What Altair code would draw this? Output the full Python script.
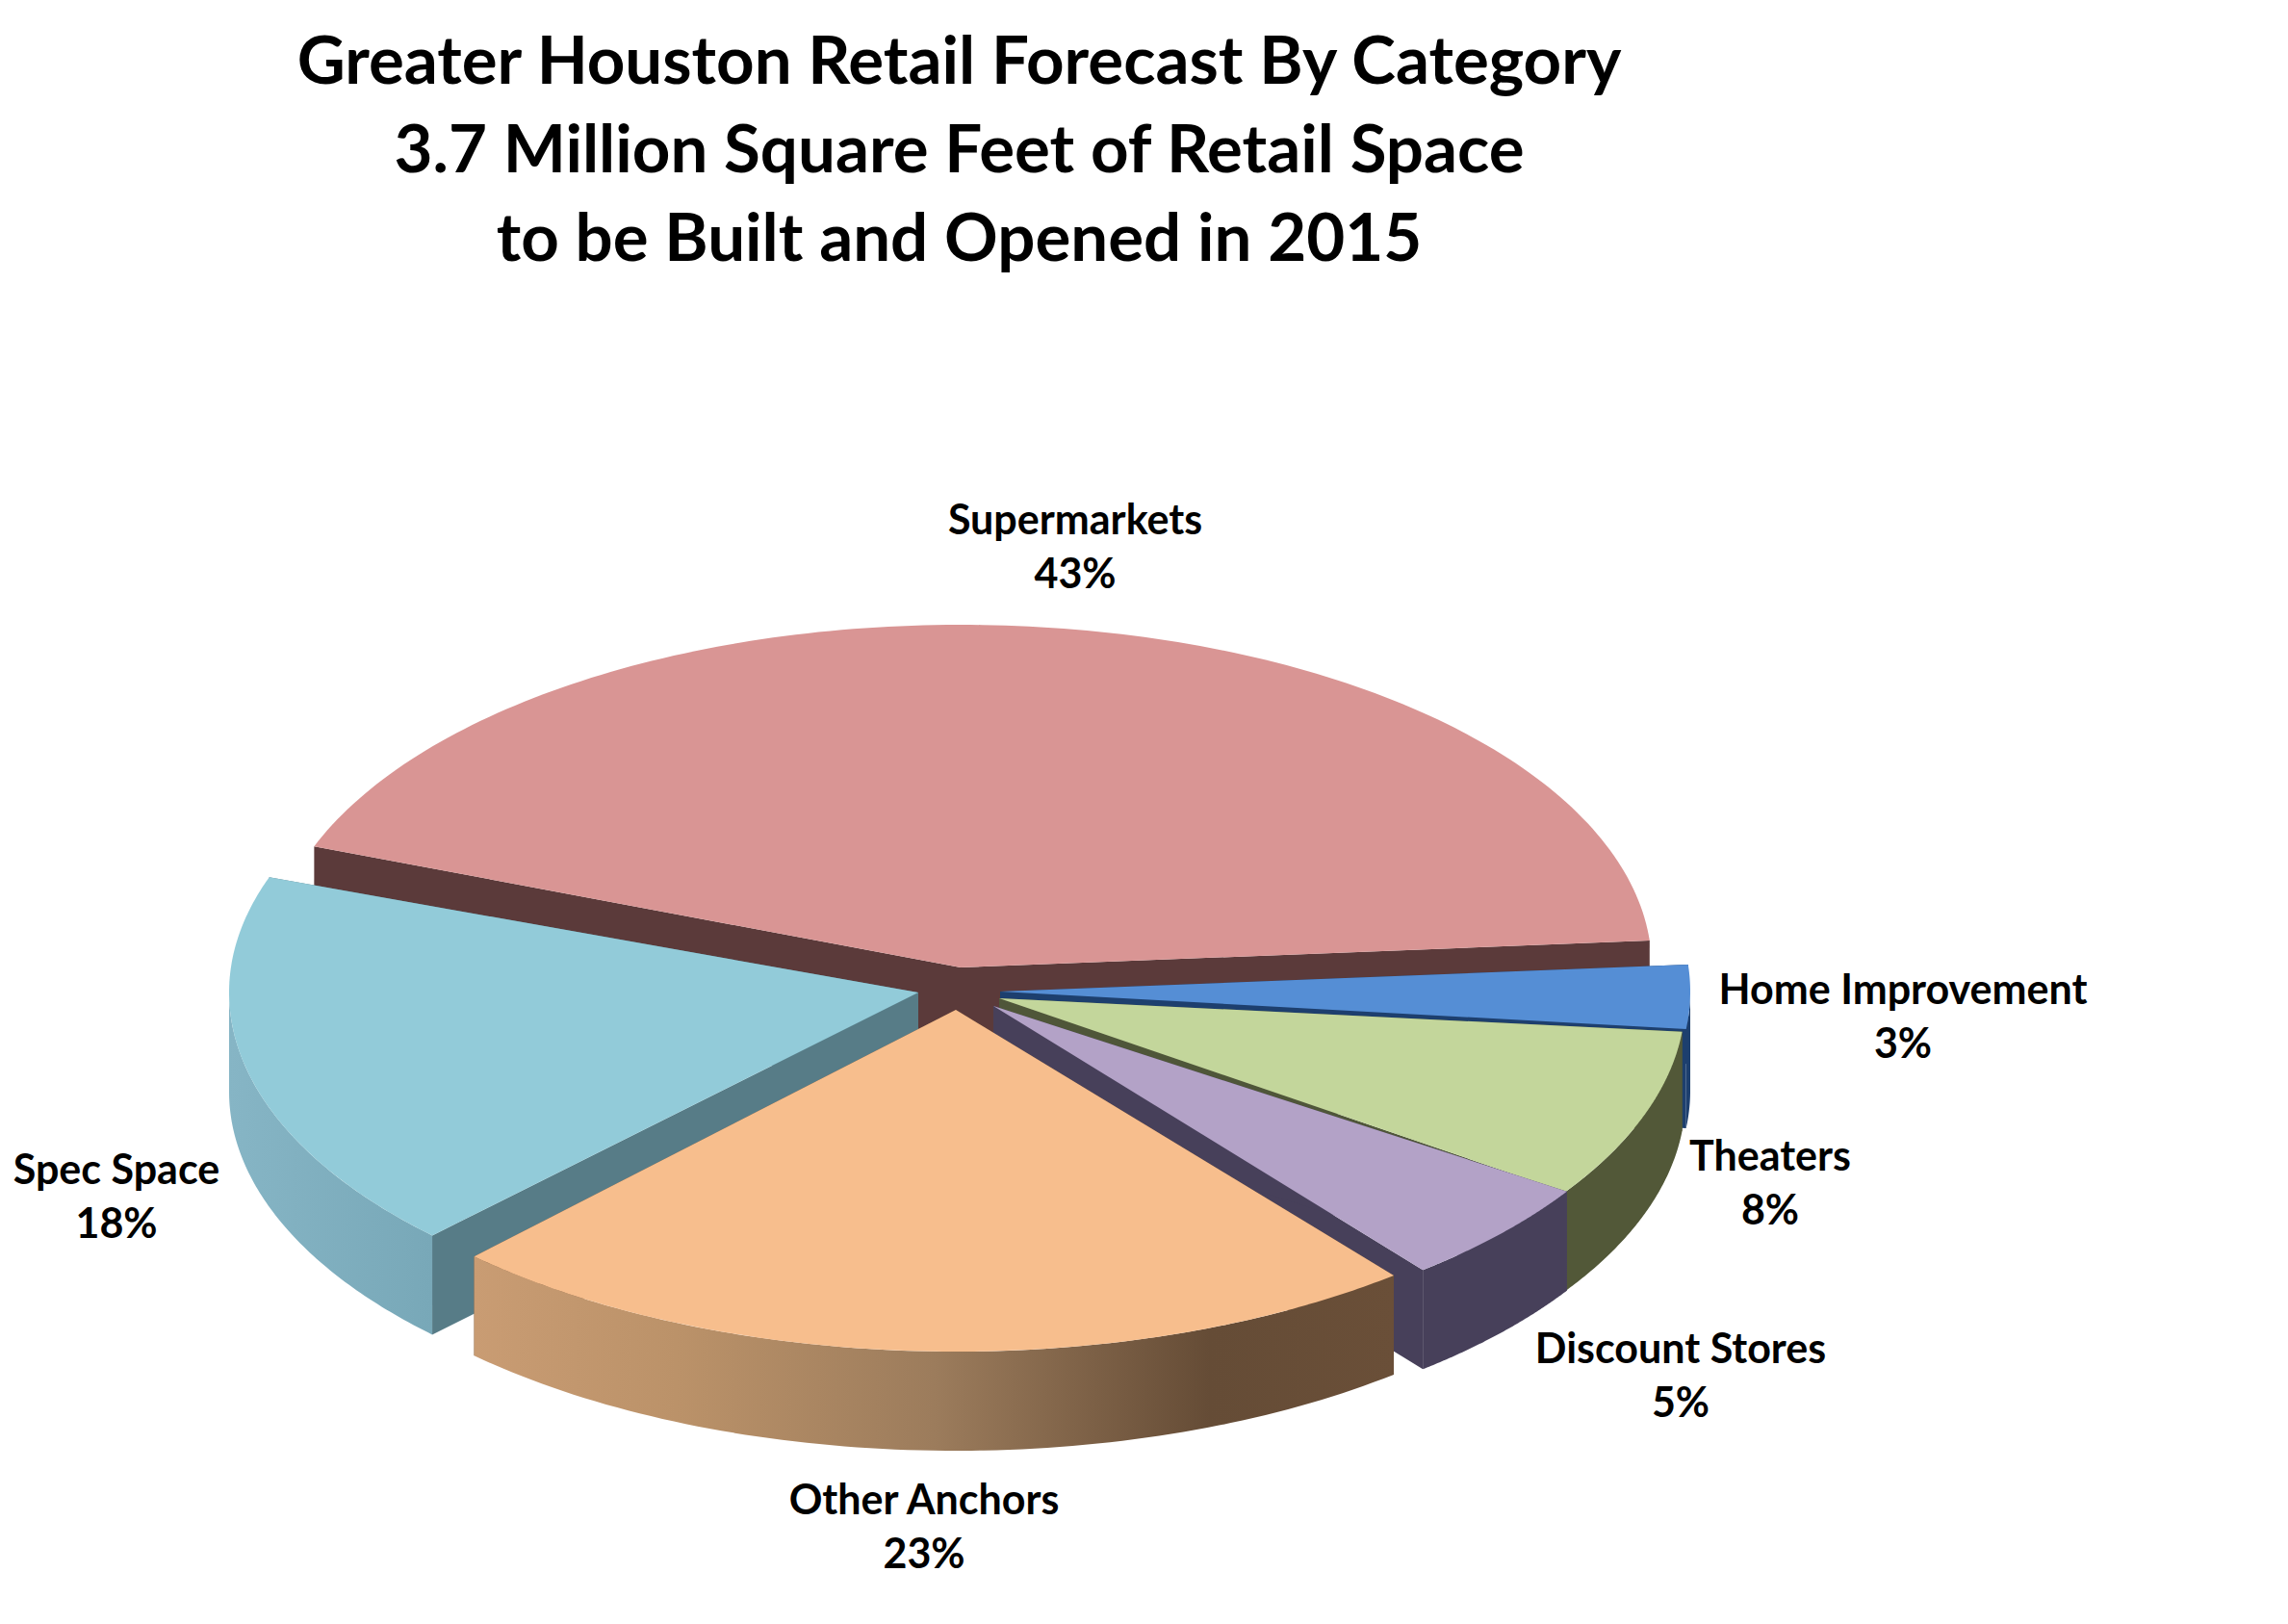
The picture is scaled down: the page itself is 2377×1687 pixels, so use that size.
import numpy as np
import pandas as pd
import altair as alt

# ---- chart values
CATEGORIES = ["Supermarkets", "Home Improvement", "Theaters", "Discount Stores", "Spec Space", "Other Anchors"]
SHARES = [43, 3, 8, 5, 18, 23]
TITLE_LINES = [
    "Greater Houston Retail Forecast By Category",
    "3.7 Million Square Feet of Retail Space",
    "to be Built and Opened in 2015",
]

# ---- styling
TOP_COLORS = ["#D99594", "#558ED5", "#C3D69B", "#B3A2C7", "#92CBD9", "#F7BE8D"]
FACE_COLORS = ["#5B3A3A", "#1D3F6E", "#4F5639", "#47405A", "#577C87", "#6B4F38"]
WALL_STOPS = [
    [(0, "#5B3A3A"), (1, "#5B3A3A")],
    [(0, "#1D3F6E"), (1, "#1D3F6E")],
    [(0, "#525838"), (1, "#525838")],
    [(0, "#47405A"), (1, "#47405A")],
    [(0, "#86B5C5"), (1, "#78A8B8")],
    [(0, "#C99C73"), (0.22, "#BB9269"), (0.5, "#9C7C5C"), (0.8, "#654C36"), (1, "#6A4F38")],
]

# ---- pie projection: tip of each exploded slice, ellipse radii, direction of its middle
TIP_X = [998, 1039, 1038, 1032, 954, 993]
TIP_Y = [1003, 1028, 1035, 1043, 1029, 1047]
RADIUS_X = [718, 717, 713, 712, 716, 723]
RADIUS_Y = [356, 356, 356, 352, 356, 355]
MID_ANGLE = [81.9, 359.1, 340.0, 317.8, 192.75, 267.6]
DEPTH = 103
LABEL_X = [1117, 1977, 1839, 1746, 121, 960]
LABEL_Y = [540, 1028, 1201, 1401, 1215, 1558]

PAGE_W, PAGE_H = 2377, 1687
TITLE_TOP_GAP = 24
PLOT_TOP = 283

x_scale = alt.Scale(domain=[8, PAGE_W - 8], nice=False, zero=False)
y_scale = alt.Scale(domain=[PAGE_H - 8, PLOT_TOP], nice=False, zero=False)


def polygon(xs, ys, fill):
    frame = pd.DataFrame({"x": xs, "y": ys, "i": range(len(xs))})
    return alt.Chart(frame).mark_line(filled=True, fill=fill, interpolate="linear-closed").encode(
        x=alt.X("x:Q", scale=x_scale, axis=None),
        y=alt.Y("y:Q", scale=y_scale, axis=None),
        order="i:Q",
    )


layers = []
for k, share in enumerate(SHARES):
    span = share * 3.6
    a0 = MID_ANGLE[k] - span / 2
    a1 = MID_ANGLE[k] + span / 2
    tx, ty, rx, ry = TIP_X[k], TIP_Y[k], RADIUS_X[k], RADIUS_Y[k]

    def rim(angles):
        t = np.radians(angles)
        return tx + rx * np.cos(t), ty - ry * np.sin(t)

    # radial faces
    for a in (a0, a1):
        ex, ey = rim(np.array([a]))
        layers.append(polygon([tx, ex[0], ex[0], tx], [ty, ey[0], ey[0] + DEPTH, ty + DEPTH], FACE_COLORS[k]))

    # outer wall: only the part that faces the viewer
    ranges = [(max(a0, 180), min(a1, 360)), (max(a0, 540), min(a1, 720))]
    for lo, hi in ranges:
        if hi > lo:
            arc = np.linspace(lo, hi, 80)
            ax, ay = rim(arc)
            stops = [alt.GradientStop(offset=o, color=c) for o, c in WALL_STOPS[k]]
            fill = alt.LinearGradient(gradient="linear", stops=stops, x1=0, x2=1, y1=0, y2=0)
            layers.append(polygon(list(ax) + list(ax[::-1]), list(ay) + list(ay[::-1] + DEPTH), fill))

    # top face
    arc = np.linspace(a0, a1, 160)
    ax, ay = rim(arc)
    layers.append(polygon([tx] + list(ax), [ty] + list(ay), TOP_COLORS[k]))

labels = pd.DataFrame({
    "label": [f"{c}\n{s}%" for c, s in zip(CATEGORIES, SHARES)],
    "x": LABEL_X,
    "y": LABEL_Y,
})
text = alt.Chart(labels).mark_text(
    font="Lato", fontWeight="bold", fontSize=43, color="black", lineBreak="\n", lineHeight=56,
    align="center", baseline="middle",
).encode(
    x=alt.X("x:Q", scale=x_scale, axis=None),
    y=alt.Y("y:Q", scale=y_scale, axis=None),
    text="label:N",
)

chart = alt.layer(*layers, text).properties(
    width=PAGE_W - 16,
    height=PAGE_H - 8 - PLOT_TOP,
    padding={"top": TITLE_TOP_GAP, "left": 0, "right": 0, "bottom": 0},
    title=alt.TitleParams(
        text=TITLE_LINES, font="Lato", fontWeight="bold", fontSize=69, lineHeight=92,
        color="black", anchor="middle", dx=-192, offset=0,
    ),
).configure_view(stroke=None)

chart.save("out.html", embed_options={"renderer": "svg", "actions": False})
